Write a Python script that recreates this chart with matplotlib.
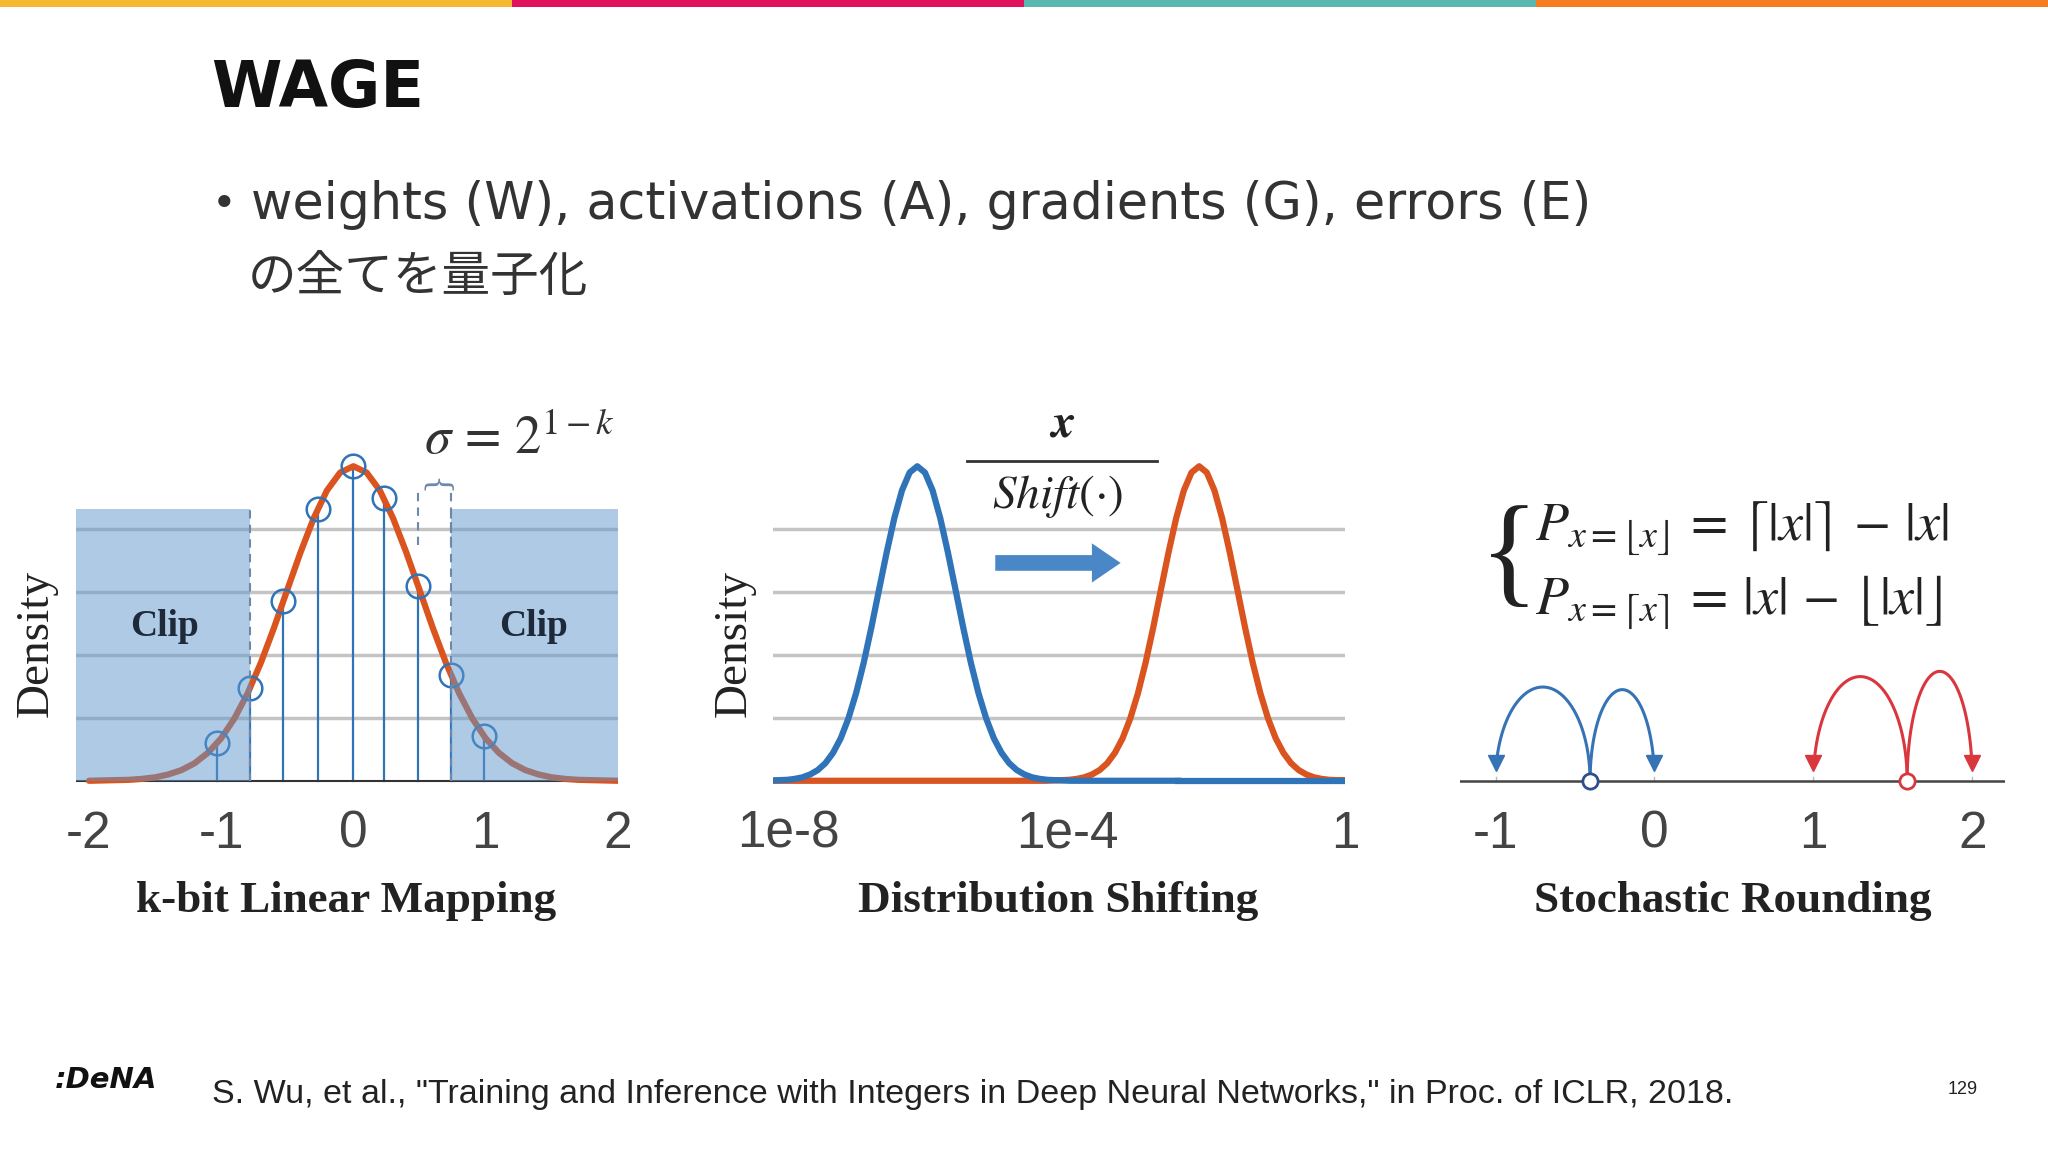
import numpy as np
import matplotlib
matplotlib.use("Agg")
import matplotlib.pyplot as plt
from matplotlib.patches import Rectangle, FancyArrow

plt.rcParams['font.family'] = ['DejaVu Sans', 'Noto Sans CJK JP']
plt.rcParams['mathtext.fontset'] = 'stix'

# ---------------- data ----------------
# half profile of the density curve (offset from centre, density), mirrored
prof_x = [0.0, 0.1, 0.2, 0.3, 0.4, 0.5, 0.6, 0.7, 0.8, 0.9, 1.0,
          1.1, 1.2, 1.3, 1.4, 1.5, 1.6, 1.7, 1.8, 1.9, 2.0]
prof_y = [1.000, 0.980, 0.923, 0.835, 0.726, 0.607, 0.487, 0.375, 0.278, 0.198, 0.135,
          0.089, 0.056, 0.034, 0.020, 0.011, 0.006, 0.003, 0.002, 0.001, 0.000]
# quantized levels (k-bit linear mapping)
q_x = [-1.03, -0.78, -0.53, -0.27, 0.0, 0.23, 0.49, 0.74, 0.99]
q_y = [0.120, 0.296, 0.570, 0.864, 1.000, 0.899, 0.618, 0.335, 0.141]
clip_lo, clip_hi = -0.78, 0.74
grid_levels = [0.2, 0.4, 0.6, 0.8]
shade_top = 0.863
p1_ticks = [-2, -1, 0, 1, 2]
p1_ticklabels = ['-2', '-1', '0', '1', '2']

# distribution shifting (log10 x)
blue_peak = -6.15
orange_peak = -2.10
shift_width = 1.1
p2_ticks = [-8, -4, 0]
p2_ticklabels = ['1e-8', '1e-4', '1']

# stochastic rounding
blue_pt, red_pt = -0.405, 1.59
blue_targets = [-1, 0]
red_targets = [1, 2]
blue_heights = [72, 70]
red_heights = [80, 84]
p3_ticks = [-1, 0, 1, 2]
p3_ticklabels = ['-1', '0', '1', '2']

W, H = 1568.0, 882.0
fig = plt.figure(figsize=(20.48, 11.52), dpi=100)
fig.patch.set_facecolor('white')

def rect(x0, x1, ytop, ybot):
    return [x0 / W, 1 - ybot / H, (x1 - x0) / W, (ybot - ytop) / H]

def fx(x):
    return x / W

def fy(y):
    return 1 - y / H

# top colour bar
bar_cols = ['#f6b830', '#e0125e', '#5ab8b1', '#f57c1f']
for i, c in enumerate(bar_cols):
    fig.add_artist(Rectangle((i * 0.25, 1 - 5 / H), 0.25, 5 / H, transform=fig.transFigure,
                             color=c, lw=0))

fig.text(fx(162), fy(68), 'WAGE', fontsize=46, fontweight='bold', color='#111111',
         va='center', ha='left')
fig.text(fx(162), fy(157), '•', fontsize=30, color='#333333', va='center', ha='left')
fig.text(fx(192), fy(157), 'weights (W), activations (A), gradients (G), errors (E)',
         fontsize=36.5, color='#333333', va='center', ha='left')
fig.text(fx(190), fy(212), 'の全てを量子化', fontsize=35, color='#333333', va='center', ha='left',
         family=['Noto Sans CJK JP', 'DejaVu Sans'])

BLUE = '#2f74b9'
ORANGE = '#d9541e'
GRID = '#c4c4c4'
tickfont = dict(family='Liberation Sans', size=37, color='#444444')
labfont = dict(family='Liberation Serif', fontweight='bold', fontsize=32.5, color='#222222')

full_x = [-v for v in prof_x[::-1]] + prof_x[1:]
full_y = prof_y[::-1] + prof_y[1:]

def style_axis(ax, ticks, labels):
    for s in ax.spines.values():
        s.set_visible(False)
    ax.set_yticks([])
    ax.set_xticks(ticks)
    ax.set_xticklabels(labels, fontdict=tickfont)
    ax.tick_params(axis='x', length=0, pad=14)
    ax.patch.set_alpha(0)

# ---------------- panel 1 ----------------
ax1 = fig.add_axes(rect(58, 473, 330, 605))
ax1.set_xlim(-2.1, 2.0)
ax1.set_ylim(-0.03, 1.112)
style_axis(ax1, p1_ticks, p1_ticklabels)
for g in grid_levels:
    ax1.plot([-2.1, 2.0], [g, g], color=GRID, lw=2.5, zorder=1)
ax1.plot(full_x, full_y, color=ORANGE, lw=4.5, zorder=3, solid_capstyle='round')
for xq, yq in zip(q_x, q_y):
    ax1.plot([xq, xq], [0, yq], color=BLUE, lw=1.6, zorder=2)
ax1.plot(q_x, q_y, 'o', ms=17, mfc='none', mec=BLUE, mew=1.8, zorder=4)
shade = '#5f97cc'
ax1.add_patch(Rectangle((-2.1, 0), clip_lo + 2.1, shade_top, color=shade, alpha=0.5, lw=0, zorder=5))
ax1.add_patch(Rectangle((clip_hi, 0), 2.0 - clip_hi, shade_top, color=shade, alpha=0.5, lw=0, zorder=5))
ax1.plot([-2.1, 2.0], [0, 0], color='#333333', lw=1.5, zorder=2)
for xc in (clip_lo, clip_hi):
    ax1.plot([xc, xc], [0, shade_top], color='#6f87a8', lw=1.5, ls=(0, (4, 3)), zorder=6)
for xc in (q_x[6], q_x[7]):
    ax1.plot([xc, xc], [0.75, 0.93], color='#6f87a8', lw=1.5, ls=(0, (4, 3)), zorder=6)
ax1.text((q_x[6] + q_x[7]) / 2, 0.935, '{', rotation=-90, fontsize=22, color='#6f87a8',
         ha='center', va='center', family='DejaVu Serif', zorder=6)
ax1.text(-1.43, 0.49, 'Clip', ha='center', va='center', zorder=7,
         family='Liberation Serif', fontweight='bold', fontsize=27, color='#1e2a3a')
ax1.text(1.36, 0.49, 'Clip', ha='center', va='center', zorder=7,
         family='Liberation Serif', fontweight='bold', fontsize=27, color='#1e2a3a')
fig.text(fx(398), fy(336), r'$\sigma\,=\,2^{1-k}$', fontsize=38, color='#333333',
         ha='center', va='center')
fig.text(fx(28), fy(493), 'Density', rotation=90, ha='center', va='center',
         family='Liberation Serif', fontsize=34, color='#222222')
fig.text(fx(265), fy(690), 'k-bit Linear Mapping', ha='center', va='center', **labfont)

# ---------------- panel 2 ----------------
ax2 = fig.add_axes(rect(592, 1030, 330, 605))
ax2.set_xlim(-8.22, -0.04)
ax2.set_ylim(-0.03, 1.112)
style_axis(ax2, p2_ticks, p2_ticklabels)
for g in grid_levels:
    ax2.plot([-8.22, -0.04], [g, g], color=GRID, lw=2.5, zorder=1)
bx = [blue_peak + v * shift_width for v in full_x]
ox = [orange_peak + v * shift_width for v in full_x]
ax2.plot([-8.22] + ox + [-0.04], [0] + full_y + [0], color=ORANGE, lw=4.5, zorder=3)
ax2.plot(bx + [orange_peak - 0.3], full_y + [0], color=BLUE, lw=4.5, zorder=3)
ax2.plot([orange_peak - 0.3, -0.04], [0, 0], color=BLUE, lw=4.5, zorder=4)
fig.add_artist(FancyArrow(fx(762), fy(431), fx(858) - fx(762), 0, width=12 / H,
                          head_width=30 / H, head_length=22 / W, length_includes_head=True,
                          color='#4a87c6', transform=fig.transFigure, lw=0))
fig.text(fx(813), fy(325), r'$\boldsymbol{x}$', fontsize=34, ha='center', va='center', color='#222222')
fig.add_artist(plt.Line2D([fx(740), fx(886)], [fy(353), fy(353)], color='#333333', lw=2,
                          transform=fig.transFigure))
fig.text(fx(810), fy(380), r'$Shift(\cdot)$', fontsize=34, ha='center', va='center', color='#222222')
fig.text(fx(562), fy(493), 'Density', rotation=90, ha='center', va='center',
         family='Liberation Serif', fontsize=34, color='#222222')
fig.text(fx(810), fy(690), 'Distribution Shifting', ha='center', va='center', **labfont)

# ---------------- panel 3 ----------------
ax3 = fig.add_axes(rect(1118, 1535, 498, 605))
ax3.set_xlim(-1.222, 2.205)
ax3.set_ylim(-7, 100)
style_axis(ax3, p3_ticks, p3_ticklabels)
ax3.plot([-1.222, 2.205], [0, 0], color='#444444', lw=1.8, zorder=2)
for t in p3_ticks:
    ax3.plot([t, t], [0, 3], color='#bbbbbb', lw=1, zorder=1)

def arc(ax, x0, x1, h, col):
    t = np.linspace(0, np.pi, 60)
    xs = (x0 + x1) / 2 - (x1 - x0) / 2 * np.cos(t)
    ys = h * np.sin(t)
    keep = ~((t > np.pi / 2) & (ys < 16))
    ax.plot(xs[keep], ys[keep], color=col, lw=2.2, zorder=3)
    ax.plot([x1], [14], marker='v', ms=11, color=col, zorder=3)

for tgt, h in zip(blue_targets, blue_heights):
    arc(ax3, blue_pt, tgt, h, '#3573b5')
for tgt, h in zip(red_targets, red_heights):
    arc(ax3, red_pt, tgt, h, '#d9363e')
ax3.plot([blue_pt], [0], 'o', ms=11, mfc='white', mec='#2e4f8a', mew=2, zorder=5)
ax3.plot([red_pt], [0], 'o', ms=11, mfc='white', mec='#d9363e', mew=2, zorder=5)
fig.text(fx(1178), fy(430), '{', fontsize=88, family='Liberation Serif',
         ha='right', va='center', color='#222222')
fig.text(fx(1175), fy(404), r'$P_{x=\lfloor x\rfloor}\,=\,\lceil|x|\rceil\,-\,|x|$', fontsize=39,
         ha='left', va='center', color='#222222')
fig.text(fx(1175), fy(461), r'$P_{x=\lceil x\rceil}\,=\,|x|\,-\,\lfloor|x|\rfloor$', fontsize=39,
         ha='left', va='center', color='#222222')
fig.text(fx(1327), fy(690), 'Stochastic Rounding', ha='center', va='center', **labfont)

# ---------------- footer ----------------
fig.text(fx(42), fy(827), ':DeNA', fontsize=21, fontweight='bold', style='italic',
         family='DejaVu Sans', ha='left', va='center', color='#111111')
fig.text(fx(162), fy(838),
         'S. Wu, et al., "Training and Inference with Integers in Deep Neural Networks," in Proc. of ICLR, 2018.',
         fontsize=24.5, family='Liberation Sans', ha='left', va='center', color='#222222')
fig.text(fx(1503), fy(834), '129', fontsize=13, family='Liberation Sans', ha='center',
         va='center', color='#222222')

fig.savefig('out.png', dpi=100, facecolor='white')
